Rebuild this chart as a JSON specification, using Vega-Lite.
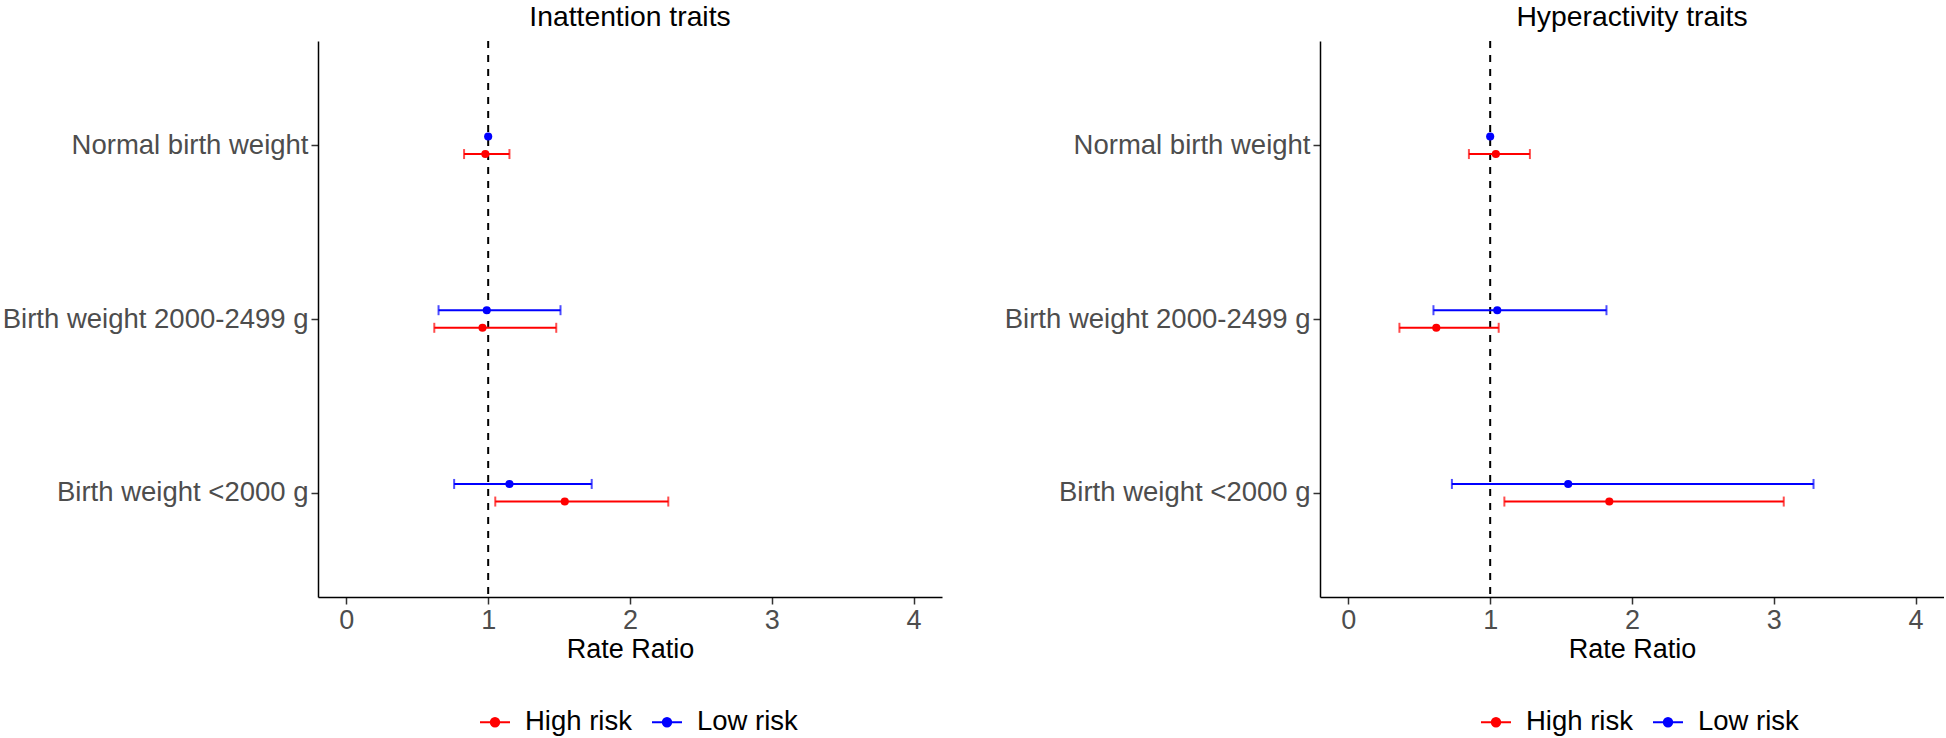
{
  "$schema": "https://vega.github.io/schema/vega-lite/v6.json",
  "padding": {"left": 2, "top": 2, "right": 0, "bottom": 0},
  "spacing": 62,
  "datasets": {
    "d": [
      {"trait": "Inattention traits", "group": "Normal birth weight", "risk": "Low risk", "est": 1.0, "lo": null, "hi": null},
      {"trait": "Inattention traits", "group": "Normal birth weight", "risk": "High risk", "est": 0.98, "lo": 0.83, "hi": 1.15},
      {"trait": "Inattention traits", "group": "Birth weight 2000-2499 g", "risk": "Low risk", "est": 0.99, "lo": 0.65, "hi": 1.51},
      {"trait": "Inattention traits", "group": "Birth weight 2000-2499 g", "risk": "High risk", "est": 0.96, "lo": 0.62, "hi": 1.48},
      {"trait": "Inattention traits", "group": "Birth weight <2000 g", "risk": "Low risk", "est": 1.15, "lo": 0.76, "hi": 1.73},
      {"trait": "Inattention traits", "group": "Birth weight <2000 g", "risk": "High risk", "est": 1.54, "lo": 1.05, "hi": 2.27},
      {"trait": "Hyperactivity traits", "group": "Normal birth weight", "risk": "Low risk", "est": 1.0, "lo": null, "hi": null},
      {"trait": "Hyperactivity traits", "group": "Normal birth weight", "risk": "High risk", "est": 1.04, "lo": 0.85, "hi": 1.28},
      {"trait": "Hyperactivity traits", "group": "Birth weight 2000-2499 g", "risk": "Low risk", "est": 1.05, "lo": 0.60, "hi": 1.82},
      {"trait": "Hyperactivity traits", "group": "Birth weight 2000-2499 g", "risk": "High risk", "est": 0.62, "lo": 0.36, "hi": 1.06},
      {"trait": "Hyperactivity traits", "group": "Birth weight <2000 g", "risk": "Low risk", "est": 1.55, "lo": 0.73, "hi": 3.28},
      {"trait": "Hyperactivity traits", "group": "Birth weight <2000 g", "risk": "High risk", "est": 1.84, "lo": 1.10, "hi": 3.07}
    ],
    "ref": [{"ref": 1}]
  },
  "resolve": {"scale": {"color": "independent", "x": "independent", "y": "independent"}, "legend": {"color": "independent"}},
  "hconcat": [
    {
      "width": 624,
      "height": 556,
      "title": {"text": "Inattention traits"},
      "layer": [
        {
          "data": {"name": "ref"},
          "mark": {"type": "rule", "color": "black", "strokeWidth": 2, "strokeDash": [7, 7]},
          "encoding": {"x": {"field": "ref", "type": "quantitative", "title": "Rate Ratio", "scale": {"domain": [-0.2, 4.2], "nice": false, "zero": false}, "axis": {"values": [0, 1, 2, 3, 4], "format": "d"}}}
        },
        {
          "data": {"name": "d"},
          "transform": [{"filter": "datum.trait === 'Inattention traits'"}],
          "layer": [
            {"mark": {"type": "rule", "strokeWidth": 2}, "encoding": {"x": {"field": "lo", "type": "quantitative", "title": "Rate Ratio", "axis": {"values": [0, 1, 2, 3, 4], "format": "d"}}, "x2": {"field": "hi"}}},
            {"mark": {"type": "tick", "thickness": 2, "size": 10}, "encoding": {"x": {"field": "lo", "type": "quantitative", "title": "Rate Ratio", "axis": {"values": [0, 1, 2, 3, 4], "format": "d"}}}},
            {"mark": {"type": "tick", "thickness": 2, "size": 10}, "encoding": {"x": {"field": "hi", "type": "quantitative", "title": "Rate Ratio", "axis": {"values": [0, 1, 2, 3, 4], "format": "d"}}}},
            {"mark": {"type": "point", "filled": true, "size": 66, "opacity": 1}, "encoding": {"x": {"field": "est", "type": "quantitative", "title": "Rate Ratio", "axis": {"values": [0, 1, 2, 3, 4], "format": "d"}}}}
          ],
          "encoding": {
            "y": {"field": "group", "type": "nominal", "sort": ["Normal birth weight", "Birth weight 2000-2499 g", "Birth weight <2000 g"], "scale": {"type": "point", "padding": 0.6}, "axis": {"title": null}},
            "yOffset": {"field": "risk", "type": "nominal", "scale": {"type": "point", "domain": ["Low risk", "High risk"], "range": [-8.8, 8.8], "padding": 0}},
            "color": {"field": "risk", "type": "nominal", "scale": {"domain": ["High risk", "Low risk"], "range": ["#FF0000", "#0000FF"]}, "legend": {"orient": "none", "legendX": 161, "legendY": 665}}
          }
        }
      ]
    },
    {
      "width": 624,
      "height": 556,
      "title": {"text": "Hyperactivity traits"},
      "layer": [
        {
          "data": {"name": "ref"},
          "mark": {"type": "rule", "color": "black", "strokeWidth": 2, "strokeDash": [7, 7]},
          "encoding": {"x": {"field": "ref", "type": "quantitative", "title": "Rate Ratio", "scale": {"domain": [-0.2, 4.2], "nice": false, "zero": false}, "axis": {"values": [0, 1, 2, 3, 4], "format": "d"}}}
        },
        {
          "data": {"name": "d"},
          "transform": [{"filter": "datum.trait === 'Hyperactivity traits'"}],
          "layer": [
            {"mark": {"type": "rule", "strokeWidth": 2}, "encoding": {"x": {"field": "lo", "type": "quantitative", "title": "Rate Ratio", "axis": {"values": [0, 1, 2, 3, 4], "format": "d"}}, "x2": {"field": "hi"}}},
            {"mark": {"type": "tick", "thickness": 2, "size": 10}, "encoding": {"x": {"field": "lo", "type": "quantitative", "title": "Rate Ratio", "axis": {"values": [0, 1, 2, 3, 4], "format": "d"}}}},
            {"mark": {"type": "tick", "thickness": 2, "size": 10}, "encoding": {"x": {"field": "hi", "type": "quantitative", "title": "Rate Ratio", "axis": {"values": [0, 1, 2, 3, 4], "format": "d"}}}},
            {"mark": {"type": "point", "filled": true, "size": 66, "opacity": 1}, "encoding": {"x": {"field": "est", "type": "quantitative", "title": "Rate Ratio", "axis": {"values": [0, 1, 2, 3, 4], "format": "d"}}}}
          ],
          "encoding": {
            "y": {"field": "group", "type": "nominal", "sort": ["Normal birth weight", "Birth weight 2000-2499 g", "Birth weight <2000 g"], "scale": {"type": "point", "padding": 0.6}, "axis": {"title": null}},
            "yOffset": {"field": "risk", "type": "nominal", "scale": {"type": "point", "domain": ["Low risk", "High risk"], "range": [-8.8, 8.8], "padding": 0}},
            "color": {"field": "risk", "type": "nominal", "scale": {"domain": ["High risk", "Low risk"], "range": ["#FF0000", "#0000FF"]}, "legend": {"orient": "none", "legendX": 160, "legendY": 665}}
          }
        }
      ]
    }
  ],
  "config": {
    "font": "Liberation Sans",
    "view": {"stroke": null},
    "axis": {"grid": false, "domainColor": "black", "domainWidth": 1.5, "tickColor": "#333333", "tickWidth": 1.5, "tickSize": 7, "labelColor": "#4D4D4D", "titleColor": "black", "titleFontWeight": "normal", "labelFont": "Liberation Sans", "titleFont": "Liberation Sans"},
    "axisX": {"labelFontSize": 27, "titleFontSize": 27, "labelPadding": 3, "titlePadding": 3},
    "axisY": {"labelFontSize": 27.5, "labelLimit": 500, "labelPadding": 3},
    "title": {"fontSize": 28.3, "fontWeight": "normal", "color": "black", "anchor": "middle", "frame": "group", "baseline": "alphabetic", "offset": 8, "font": "Liberation Sans"},
    "legend": {"title": null, "direction": "horizontal", "labelFontSize": 27.5, "labelColor": "black", "labelFont": "Liberation Sans", "symbolType": "M-1,0H1M0,-0.28A0.28,0.28,0,1,1,0,0.28A0.28,0.28,0,1,1,0,-0.28Z", "symbolSize": 900, "symbolStrokeWidth": 2, "symbolOpacity": 1, "labelOffset": 14, "columnPadding": 16}
  }
}
